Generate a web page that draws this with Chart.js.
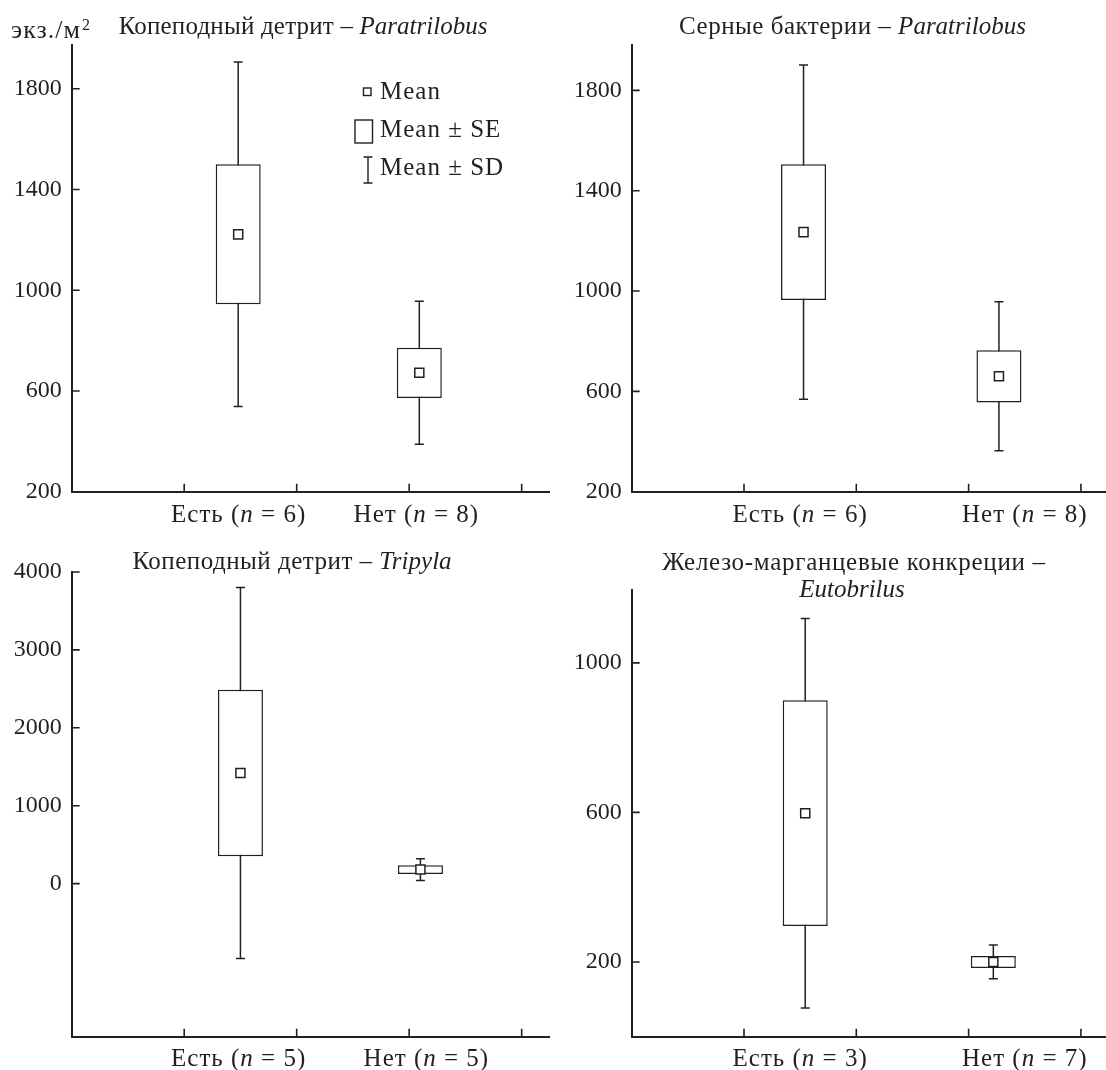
<!DOCTYPE html>
<html lang="ru">
<head>
<meta charset="utf-8">
<title>Численность нематод</title>
<script src="https://cdn.jsdelivr.net/npm/chart.js@4.4.0/dist/chart.umd.min.js"></script>
<style>
  html, body { margin: 0; padding: 0; background: #fff; overflow: hidden; }
  #wrap { position: relative; width: 1106px; height: 1070px; }
  #wrap canvas { position: absolute; }
</style>
</head>
<body>
<div id="wrap">
  <canvas id="c1"></canvas>
  <canvas id="c2"></canvas>
  <canvas id="c3"></canvas>
  <canvas id="c4"></canvas>
</div>
<script>
// группы: фактор есть / нет
const groups = ['Есть', 'Нет'];

// Копеподный детрит – Paratrilobus
const copParN = [6, 8];
const copParMean = [1222, 672];
const copParSE = [278, 100];
const copParSD = [684, 284];

// Серные бактерии – Paratrilobus
const sulParN = [6, 8];
const sulParMean = [1235, 660];
const sulParSE = [271, 104];
const sulParSD = [666, 297];

// Копеподный детрит – Tripyla
const copTriN = [5, 5];
const copTriMean = [1420, 180];
const copTriSE = [1070, 55];
const copTriSD = [2380, 140];

// Железо-марганцевые конкреции – Eutobrilus
const fmnEutN = [3, 7];
const fmnEutMean = [598, 200];
const fmnEutSE = [302, 16];
const fmnEutSD = [521, 45];

// подписи осей
const yTicksPar = [200, 600, 1000, 1400, 1800];
const yTicksTri = [0, 1000, 2000, 3000, 4000];
const yTicksEut = [200, 600, 1000];
const xTicks = [1, 2, 3, 4];
const unitLabel = ['экз./м', '2'];
const legendLabels = ['Mean', 'Mean ± SE', 'Mean ± SD'];

const INK = '#231f20';
const FONT = '"Liberation Serif", "Times New Roman", serif';
const FS = 25;

Chart.defaults.font.family = FONT;
Chart.defaults.color = INK;

function fontOf(italic, size) {
  return (italic ? 'italic ' : '') + size + 'px ' + FONT;
}

// part = [text, italic, letterSpacing]
function setPart(ctx, p, size) {
  ctx.font = fontOf(p[1], size);
  ctx.letterSpacing = (p[2] || 0) + 'px';
}

function richWidth(ctx, parts, size) {
  let w = 0;
  parts.forEach(p => { setPart(ctx, p, size); w += ctx.measureText(p[0]).width; });
  return w;
}

function drawRich(ctx, parts, cx, y, size, align) {
  let x = align === 'left' ? cx : cx - richWidth(ctx, parts, size) / 2;
  ctx.textAlign = 'left';
  ctx.textBaseline = 'alphabetic';
  parts.forEach(p => {
    setPart(ctx, p, size);
    ctx.fillText(p[0], x, y);
    x += ctx.measureText(p[0]).width;
  });
  ctx.letterSpacing = '0px';
}

// засечки внутрь осей
const inwardTicks = {
  id: 'inwardTicks',
  afterDraw(chart) {
    const { ctx, chartArea: a, scales: { x, y } } = chart;
    ctx.save();
    ctx.strokeStyle = INK;
    ctx.lineWidth = 1.6;
    ctx.beginPath();
    y.ticks.forEach(t => {
      const py = y.getPixelForValue(t.value);
      ctx.moveTo(a.left, py); ctx.lineTo(a.left + 8, py);
    });
    x.ticks.forEach(t => {
      const px = x.getPixelForValue(t.value);
      ctx.moveTo(px, a.bottom); ctx.lineTo(px, a.bottom - 8);
    });
    ctx.stroke();
    ctx.restore();
  }
};

// заголовки, подписи групп, легенда
const panelText = {
  id: 'panelText',
  afterDraw(chart, args, o) {
    const { ctx, scales: { x } } = chart;
    ctx.save();
    ctx.fillStyle = INK;
    o.titles.forEach(t => drawRich(ctx, t.parts, t.cx - o.offX, t.y - o.offY, FS));
    o.n.forEach((n, i) => {
      const parts = [[groups[i] + ' (', false, 1], ['n', true, 1], [' = ' + n + ')', false, 1]];
      drawRich(ctx, parts, x.getPixelForValue(o.labelX[i]), o.catY - o.offY, FS);
    });
    if (o.unit) {
      const u = [[unitLabel[0], false, 1]];
      drawRich(ctx, u, 11, 38, 26, 'left');
      const uw = richWidth(ctx, u, 26);
      drawRich(ctx, [[unitLabel[1], false]], 11 + uw + 1, 30, 16, 'left');
    }
    if (o.legend) {
      const lx = 380;
      ctx.strokeStyle = INK;
      ctx.lineWidth = 1.4;
      ctx.strokeRect(363.5, 88, 7.5, 7.5);
      ctx.strokeRect(355, 120, 17.5, 23);
      ctx.beginPath();
      ctx.moveTo(368, 157); ctx.lineTo(368, 183);
      ctx.moveTo(363.5, 157); ctx.lineTo(372.5, 157);
      ctx.moveTo(363.5, 183); ctx.lineTo(372.5, 183);
      ctx.stroke();
      drawRich(ctx, [[legendLabels[0], false, 1]], lx, 99, FS, 'left');
      drawRich(ctx, [[legendLabels[1], false, 1]], lx, 137, FS, 'left');
      drawRich(ctx, [[legendLabels[2], false, 1]], lx, 175, FS, 'left');
    }
    ctx.restore();
  }
};

const panels = [
  {
    id: 'c1', cv: { left: 0, top: 0, w: 553, h: 535 },
    plot: { left: 71.7, top: 45, right: 549.8, bottom: 491.7 },
    yMin: 200, yMax: 1974, yTicks: yTicksPar, xMax: 4.25,
    n: copParN, mean: copParMean, se: copParSE, sd: copParSD,
    boxX: [1.48, 3.09], labelX: [1.484, 3.064], catY: 522,
    titles: [{ parts: [['Копеподный детрит – ', false, 0.2], ['Paratrilobus', true]], cx: 303, y: 34 }],
    unit: true, legend: true
  },
  {
    id: 'c2', cv: { left: 553, top: 0, w: 556, h: 535 },
    plot: { left: 631.7, top: 45, right: 1109, bottom: 491.7 },
    yMin: 200, yMax: 1981, yTicks: yTicksPar, xMax: 4.25,
    n: sulParN, mean: sulParMean, se: sulParSE, sd: sulParSD,
    boxX: [1.53, 3.27], labelX: [1.5, 3.5], catY: 522,
    titles: [{ parts: [['Серные бактерии – ', false, 0.5], ['Paratrilobus', true]], cx: 852.5, y: 34 }]
  },
  {
    id: 'c3', cv: { left: 0, top: 535, w: 553, h: 535 },
    plot: { left: 71.7, top: 572, right: 549.8, bottom: 1036.7 },
    yMin: -1965, yMax: 4000, yTicks: yTicksTri, xMax: 4.25,
    n: copTriN, mean: copTriMean, se: copTriSE, sd: copTriSD,
    boxX: [1.5, 3.1], labelX: [1.484, 3.153], catY: 1066,
    titles: [{ parts: [['Копеподный детрит – ', false, 0.5], ['Tripyla', true]], cx: 292, y: 569 }]
  },
  {
    id: 'c4', cv: { left: 553, top: 535, w: 556, h: 535 },
    plot: { left: 631.7, top: 590, right: 1109, bottom: 1036.7 },
    yMin: 0, yMax: 1195, yTicks: yTicksEut, xMax: 4.25,
    n: fmnEutN, mean: fmnEutMean, se: fmnEutSE, sd: fmnEutSD,
    boxX: [1.545, 3.22], labelX: [1.5, 3.5], catY: 1066,
    titles: [
      { parts: [['Железо-марганцевые конкреции –', false, 0.7]], cx: 854, y: 570 },
      { parts: [['Eutobrilus', true]], cx: 852, y: 597 }
    ]
  }
];

function makePanel(p) {
  const cv = document.getElementById(p.id);
  cv.width = p.cv.w;
  cv.height = p.cv.h;
  cv.style.left = p.cv.left + 'px';
  cv.style.top = p.cv.top + 'px';

  const yW = p.plot.left - p.cv.left;
  const xH = p.cv.top + p.cv.h - p.plot.bottom;
  const padTop = p.plot.top - p.cv.top;
  const padRight = p.cv.left + p.cv.w - p.plot.right;

  const whiskers = p.mean.map((m, i) => ({
    type: 'line', order: 4,
    data: [{ x: p.boxX[i], y: m + p.sd[i] }, { x: p.boxX[i], y: m - p.sd[i] }],
    borderColor: INK, borderWidth: 1.5, pointRadius: 0, fill: false
  }));
  const caps = {
    type: 'scatter', order: 3,
    data: p.mean.flatMap((m, i) => [{ x: p.boxX[i], y: m + p.sd[i] }, { x: p.boxX[i], y: m - p.sd[i] }]),
    pointStyle: 'line', pointRadius: 4.5, borderColor: INK, borderWidth: 1.5
  };
  const boxes = {
    type: 'bar', order: 2,
    data: p.mean.map((m, i) => ({ x: p.boxX[i], y: [m - p.se[i], m + p.se[i]] })),
    backgroundColor: '#fff', borderColor: INK, borderWidth: 1.5, borderSkipped: false,
    barThickness: 45, inflateAmount: 0
  };
  const means = {
    type: 'scatter', order: 1,
    data: p.mean.map((m, i) => ({ x: p.boxX[i], y: m })),
    pointStyle: 'rect', pointRadius: 6.4, backgroundColor: '#fff', borderColor: INK, borderWidth: 1.5
  };

  return new Chart(cv, {
    type: 'bar',
    data: { datasets: [...whiskers, caps, boxes, means] },
    options: {
      responsive: false,
      animation: false,
      devicePixelRatio: 1,
      events: [],
      layout: { padding: { top: padTop, right: padRight, left: 0, bottom: 0 }, autoPadding: false },
      plugins: {
        legend: { display: false },
        tooltip: { enabled: false },
        panelText: {
          offX: p.cv.left, offY: p.cv.top, titles: p.titles, n: p.n,
          labelX: p.labelX, catY: p.catY, unit: !!p.unit, legend: !!p.legend
        }
      },
      scales: {
        x: {
          type: 'linear', min: 0, max: p.xMax, offset: false,
          afterBuildTicks: s => { s.ticks = xTicks.map(v => ({ value: v })); },
          afterFit: s => { s.height = xH; },
          grid: { display: false, drawTicks: false, offset: false },
          border: { display: true, color: INK, width: 2 },
          ticks: { display: false }
        },
        y: {
          type: 'linear', min: p.yMin, max: p.yMax,
          afterBuildTicks: s => { s.ticks = p.yTicks.map(v => ({ value: v })); },
          afterFit: s => { s.width = yW; },
          grid: { display: false, drawTicks: false },
          border: { display: true, color: INK, width: 2 },
          ticks: {
            font: { family: FONT, size: 24 }, color: INK, padding: 10,
            callback: v => String(v)
          }
        }
      }
    },
    plugins: [inwardTicks, panelText]
  });
}

panels.forEach(makePanel);
</script>
</body>
</html>
